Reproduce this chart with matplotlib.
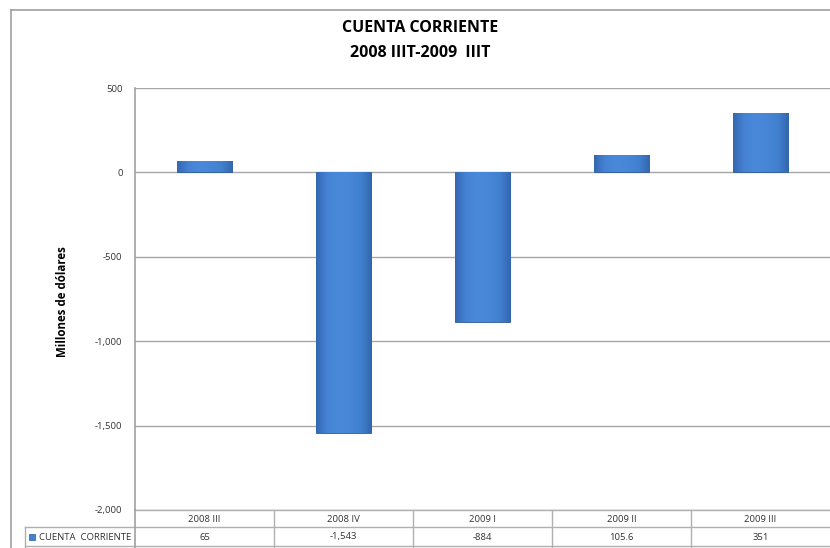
import numpy as np
import matplotlib
matplotlib.use("Agg")
import matplotlib.pyplot as plt
from matplotlib.colors import LinearSegmentedColormap
from matplotlib.ticker import FuncFormatter

categories = ["2008 III", "2008 IV", "2009 I", "2009 II", "2009 III"]
values = [65, -1543, -884, 105.6, 351]
value_labels = ["65", "-1,543", "-884", "105.6", "351"]
series_name = "CUENTA  CORRIENTE"

plt.rcParams['font.family'] = ['Open Sans', 'DejaVu Sans']

fig = plt.figure(figsize=(8.3, 5.48), dpi=100)
W, H = 830, 548

def fx(px):
    return px / W

def fy(py):
    return 1 - py / H

# plot area: x 135..830, y 88 (500) .. 510 (-2000)
ax = fig.add_axes([fx(135), fy(510), fx(830) - fx(135), fy(88) - fy(510)])
ax.set_xlim(-0.5, len(categories) - 0.5)
ax.set_ylim(-2000, 500)
ax.set_yticks(np.arange(-2000, 501, 500))
ax.yaxis.set_major_formatter(FuncFormatter(lambda v, p: f"{int(v):,}"))
ax.set_xticks([])
ax.tick_params(axis="y", length=0, labelsize=6.8, labelcolor="#333333", pad=9)
for s in ["top", "right", "bottom"]:
    ax.spines[s].set_visible(False)
ax.spines["left"].set_color("#a0a0a0")
ax.spines["left"].set_linewidth(1.2)
ax.grid(axis="y", color="#a6a6a6", linewidth=1.0, zorder=0)
ax.set_axisbelow(True)

cmap = LinearSegmentedColormap.from_list(
    "bar", ["#3468b0", "#4582d4", "#4a89da", "#4886d7", "#4180cf", "#3466ad"])
grad = np.linspace(0, 1, 256).reshape(1, -1)

bars = ax.bar(range(len(values)), values, width=0.4, color="#4582d4",
              edgecolor="#2e5b9a", linewidth=0.6, zorder=3)
for b in bars:
    x0, y0 = b.get_x(), b.get_y()
    w, h = b.get_width(), b.get_height()
    im = ax.imshow(grad, cmap=cmap, aspect="auto", zorder=3.5,
                   extent=[x0, x0 + w, min(y0, y0 + h), max(y0, y0 + h)])
    im.set_clip_path(b)
ax.set_xlim(-0.5, len(categories) - 0.5)
ax.set_ylim(-2000, 500)

fig.text(fx(63), fy(302), "Millones de dólares", rotation=90, ha="center", va="center",
         fontsize=8.3, fontweight="bold")

fig.text(fx(420), fy(28), "CUENTA CORRIENTE", ha="center", va="center",
         fontsize=11.5, fontweight="bold")
fig.text(fx(420), fy(53), "2008 IIIT-2009  IIIT", ha="center", va="center",
         fontsize=11.5, fontweight="bold")

# outer chart border
lc = "#a0a0a0"
fig.add_artist(plt.Line2D([fx(11), fx(830)], [fy(10), fy(10)], color=lc, lw=1.2))
fig.add_artist(plt.Line2D([fx(11), fx(11)], [fy(10), fy(548)], color=lc, lw=1.2))

# data table
col_w = (830 - 135) / len(categories)
tc = "#b0b0b0"
fig.add_artist(plt.Line2D([fx(135), fx(830)], [fy(510), fy(510)], color=tc, lw=1))
fig.add_artist(plt.Line2D([fx(25), fx(830)], [fy(527), fy(527)], color=tc, lw=1))
fig.add_artist(plt.Line2D([fx(25), fx(830)], [fy(546), fy(546)], color=tc, lw=1))
fig.add_artist(plt.Line2D([fx(25), fx(25)], [fy(527), fy(548)], color=tc, lw=1))
fig.add_artist(plt.Line2D([fx(135), fx(135)], [fy(510), fy(548)], color=lc, lw=1.2))
for i, (cat, lab) in enumerate(zip(categories, value_labels)):
    cx = 135 + col_w * (i + 0.5)
    if i > 0:
        xl = 135 + col_w * i
        fig.add_artist(plt.Line2D([fx(xl), fx(xl)], [fy(510), fy(548)], color=tc, lw=1))
    fig.text(fx(cx), fy(519), cat, ha="center", va="center", fontsize=6.8, color="#333333")
    fig.text(fx(cx), fy(537), lab, ha="center", va="center", fontsize=6.8, color="#333333")

fig.add_artist(plt.Rectangle((fx(29), fy(540)), fx(6), fy(534) - fy(540),
                             facecolor="#4582d4", edgecolor="#2e5b9a", lw=0.5))
fig.text(fx(39), fy(537), series_name, ha="left", va="center", fontsize=6.8, color="#333333")

fig.savefig("out.png", dpi=100)
